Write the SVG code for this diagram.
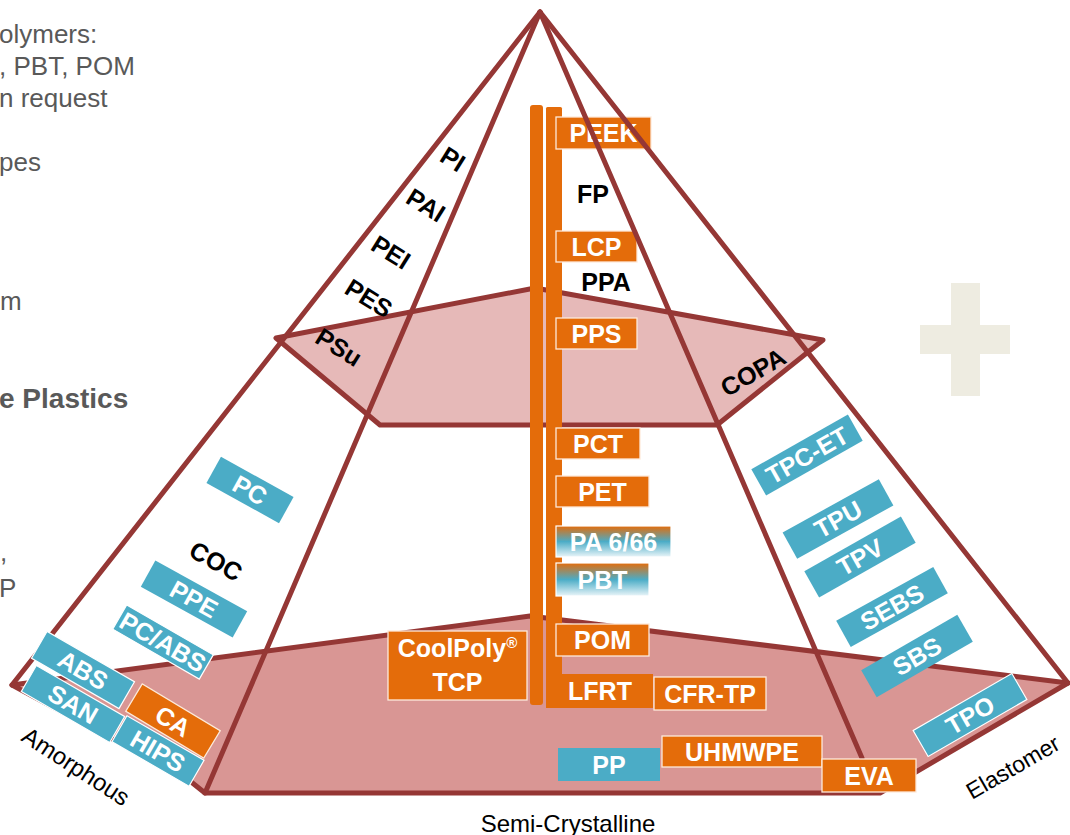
<svg xmlns="http://www.w3.org/2000/svg" width="1070" height="835" viewBox="0 0 1070 835">
<style>
.edge{fill:none;stroke:#953735;stroke-width:5;stroke-linejoin:round;stroke-linecap:round}
.band1{fill:#E6B9B8;stroke:#953735;stroke-width:5;stroke-linejoin:round}
.band2{fill:#D99694;stroke:#953735;stroke-width:5;stroke-linejoin:round}
.bar{fill:#E46C0A}
.o{fill:#E46C0A;stroke:#FDEADA;stroke-width:1.3}
.b{fill:#4BACC6;stroke:#fff;stroke-width:1.2}
.t{font-family:"Liberation Sans",Arial,sans-serif;font-weight:bold;font-size:25px;fill:#fff;text-anchor:middle}
.k{font-family:"Liberation Sans",Arial,sans-serif;font-weight:bold;font-size:25px;fill:#000;text-anchor:middle}
.ax{font-family:"Liberation Sans",Arial,sans-serif;font-size:24px;fill:#000}
.g{font-family:"Liberation Sans",Arial,sans-serif;font-size:26px;fill:#595959}
</style>
<defs>
<linearGradient id="grad" x1="0" y1="0" x2="0" y2="1">
<stop offset="0" stop-color="#E46C0A"/>
<stop offset="0.5" stop-color="#4BACC6"/>
<stop offset="1" stop-color="#EAF5F9"/>
</linearGradient>
</defs>

<g id="side-text">
<text class="g" x="-1" y="43">olymers:</text>
<text class="g" x="-1" y="75">, PBT, POM</text>
<text class="g" x="-1" y="107">n request</text>
<text class="g" x="-1" y="171">pes</text>
<text class="g" x="0" y="310">m</text>
<text class="g" x="-1" y="408" style="font-weight:bold;font-size:28px">e Plastics</text>
<text class="g" x="0" y="561">,</text>
<text class="g" x="-1" y="597">P</text>
</g>

<g id="plus" fill="#EEECE1">
<rect x="951" y="283" width="29" height="113"/>
<rect x="920" y="325" width="90" height="29"/>
</g>

<g id="bands">
<polygon class="band2" points="12,685 530,616 1068,683 880,793 205,793 190,781"/>
<polygon class="band1" points="276,338 535,288 823,340 717,425 380,425"/>
</g>

<g id="pole">
<rect class="bar" x="530" y="105" width="13" height="600" rx="3"/>
<rect class="bar" x="546" y="107" width="16" height="601" rx="1.5"/>
</g>

<g id="pole-labels">
<g id="PEEK"><rect class="o" x="556" y="117" width="95" height="32"/><text class="t" x="603.5" y="142">PEEK</text></g>
<g id="LCP"><rect class="o" x="556" y="231" width="81" height="31"/><text class="t" x="596.5" y="255.5">LCP</text></g>
<g id="PPS"><rect class="o" x="556" y="318" width="81" height="31"/><text class="t" x="596.5" y="342.5">PPS</text></g>
<g id="PCT"><rect class="o" x="556" y="428" width="84" height="31"/><text class="t" x="598" y="452.5">PCT</text></g>
<g id="PET"><rect class="o" x="556" y="476" width="93" height="31"/><text class="t" x="602.5" y="500.5">PET</text></g>
<g id="PA66"><rect x="556" y="526" width="115" height="31" fill="url(#grad)" stroke="#fff" stroke-width="1.2"/><text class="t" x="613.5" y="550.5">PA 6/66</text></g>
<g id="PBT"><rect x="556" y="563" width="93" height="33" fill="url(#grad)" stroke="#fff" stroke-width="1.2"/><text class="t" x="602.5" y="588.5">PBT</text></g>
<g id="POM"><rect class="o" x="556" y="624" width="93" height="32"/><text class="t" x="602.5" y="649">POM</text></g>
<g id="LFRT"><rect class="o" x="546" y="674" width="107" height="34" style="stroke:none"/><text class="t" x="600" y="700">LFRT</text></g>
<g id="CFRTP"><rect class="o" x="654" y="677" width="112" height="33"/><text class="t" x="710" y="702.5">CFR-TP</text></g>
<g id="CoolPoly"><rect class="o" x="388" y="631" width="139" height="69"/><text class="t" x="457.5" y="657">CoolPoly<tspan style="font-size:15px" dy="-9">®</tspan></text><text class="t" x="457.5" y="691">TCP</text></g>
<g id="FP"><text class="k" x="593" y="203">FP</text></g>
<g id="PPA"><text class="k" x="606" y="291">PPA</text></g>
</g>

<g id="connectors">
<path class="edge" d="M540,12 L12,685"/>
<path class="edge" d="M540,12 L205,793"/>
<path class="edge" d="M540,12 L862,758"/>
<path class="edge" d="M540,12 L1068,683"/>
</g>

<g id="bottom-labels">
<g id="PP"><rect x="558" y="748" width="102" height="33" fill="#4BACC6"/><text class="t" x="609" y="773.5">PP</text></g>
<g id="UHMWPE"><rect class="o" x="662" y="736" width="160" height="31"/><text class="t" x="742" y="760.5">UHMWPE</text></g>
<g id="EVA"><rect class="o" x="822" y="759" width="94" height="33"/><text class="t" x="869" y="784.5">EVA</text></g>
</g>

<g id="amorphous-labels">
<g id="PI" transform="translate(453,159) rotate(32)"><text class="k" y="9">PI</text></g>
<g id="PAI" transform="translate(426,205) rotate(32)"><text class="k" y="9">PAI</text></g>
<g id="PEI" transform="translate(391,252) rotate(32)"><text class="k" y="9">PEI</text></g>
<g id="PES" transform="translate(369,298) rotate(32)"><text class="k" y="9">PES</text></g>
<g id="PSu" transform="translate(339,347) rotate(32)"><text class="k" y="9">PSu</text></g>
<g id="PC" transform="translate(250,490) rotate(29)"><rect class="b" x="-41.5" y="-15" width="83" height="30" style="stroke:none"/><text class="t" y="9">PC</text></g>
<g id="COC" transform="translate(216,561) rotate(29)"><text class="k" y="9">COC</text></g>
<g id="PPE" transform="translate(194,599) rotate(29)"><rect class="b" x="-52.5" y="-15" width="105" height="30" style="stroke:none"/><text class="t" y="9">PPE</text></g>
<g id="PCABS" transform="translate(163,642) rotate(30)"><rect class="b" x="-50" y="-14" width="100" height="28"/><text class="t" y="9">PC/ABS</text></g>
<g id="ABS" transform="translate(83,670) rotate(30)"><rect class="b" x="-50.5" y="-15.5" width="101" height="31"/><text class="t" y="9">ABS</text></g>
<g id="SAN" transform="translate(73,704) rotate(30)"><rect class="b" x="-51" y="-15" width="102" height="30"/><text class="t" y="9">SAN</text></g>
<g id="CA" transform="translate(173,721) rotate(31)"><rect class="o" x="-45.5" y="-16" width="91" height="32"/><text class="t" y="9">CA</text></g>
<g id="HIPS" transform="translate(158,751) rotate(30)"><rect class="b" x="-44.5" y="-15" width="89" height="30"/><text class="t" y="9">HIPS</text></g>
</g>

<g id="elastomer-labels">
<g id="COPA" transform="translate(753,372) rotate(-30)"><text class="k" y="9">COPA</text></g>
<g id="TPCET" transform="translate(807,455) rotate(-29.5)"><rect class="b" x="-55.5" y="-15" width="111" height="30" style="stroke:none"/><text class="t" y="9">TPC-ET</text></g>
<g id="TPU" transform="translate(838,519) rotate(-29)"><rect class="b" x="-55" y="-15" width="110" height="30" style="stroke:none"/><text class="t" y="9">TPU</text></g>
<g id="TPV" transform="translate(860,557) rotate(-29.5)"><rect class="b" x="-55.5" y="-15" width="111" height="30" style="stroke:none"/><text class="t" y="9">TPV</text></g>
<g id="SEBS" transform="translate(892,607) rotate(-29)"><rect class="b" x="-55.5" y="-15" width="111" height="30" style="stroke:none"/><text class="t" y="9">SEBS</text></g>
<g id="SBS" transform="translate(917,656) rotate(-30)"><rect class="b" x="-55.5" y="-15.5" width="111" height="31" style="stroke:none"/><text class="t" y="9">SBS</text></g>
<g id="TPO" transform="translate(970,715) rotate(-30)"><rect class="b" x="-57" y="-15" width="114" height="30"/><text class="t" y="9">TPO</text></g>
</g>

<g id="axis-labels">
<text class="ax" transform="translate(20,740) rotate(33)">Amorphous</text>
<text class="ax" x="568" y="832" text-anchor="middle">Semi-Crystalline</text>
<text class="ax" transform="translate(972,800) rotate(-30)" style="font-size:23px">Elastomer</text>
</g>
</svg>
